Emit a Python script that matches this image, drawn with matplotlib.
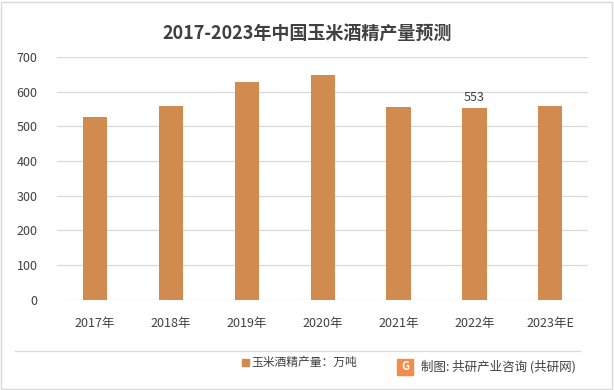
import matplotlib.pyplot as plt
from matplotlib.patches import Rectangle
from matplotlib.lines import Line2D

plt.rcParams['font.family'] = ['Noto Sans CJK SC', 'DejaVu Sans']

years = ['2017年', '2018年', '2019年', '2020年', '2021年', '2022年', '2023年E']
output = [527, 559, 628, 648, 556, 553, 560]
labelled = {'2022年': 553}

bar_color = '#D28B4E'

fig = plt.figure(figsize=(6.14, 3.9), dpi=100)
ax = fig.add_axes([0.093, 0.231, 0.865, 0.623])

x = range(len(years))
ax.bar(x, output, width=0.32, color=bar_color, zorder=3)

for i, (yr, v) in enumerate(zip(years, output)):
    if yr in labelled:
        ax.text(i, v + 12, str(labelled[yr]), ha='center', va='bottom',
                fontsize=9, color='#404040')

ax.set_ylim(0, 700)
ax.set_yticks(range(0, 701, 100))
ax.set_xlim(-0.5, len(years) - 0.5)
ax.set_xticks(list(x))
ax.set_xticklabels(years)
ax.tick_params(axis='both', length=0, labelsize=9, colors='#404040')
ax.tick_params(axis='x', pad=12)
ax.tick_params(axis='y', pad=14)
ax.grid(axis='y', color='#D9D9D9', linewidth=0.9, zorder=0)
for s in ax.spines.values():
    s.set_visible(False)

fig.text(0.5, 0.915, '2017-2023年中国玉米酒精产量预测', ha='center', va='center',
         fontsize=13, fontweight='bold', color='#404040')

# separator line and footer
fig.add_artist(Line2D([0.025, 0.945], [1 - 351 / 390] * 2, color='#D9D9D9', linewidth=0.9))
fig.add_artist(Rectangle((0.394, 1 - 366 / 390), 0.011, 0.017, color=bar_color,
                         transform=fig.transFigure))
fig.text(0.41, 1 - 362 / 390, '玉米酒精产量：万吨', ha='left', va='center',
         fontsize=8.5, color='#404040')

fig.add_artist(Rectangle((0.647, 1 - 375 / 390), 0.025, 0.04, color='#F28C4B',
                         transform=fig.transFigure))
fig.text(0.66, 1 - 367 / 390, 'G', ha='center', va='center', fontsize=8,
         fontweight='bold', color='white')
fig.text(0.685, 1 - 367 / 390, '制图: 共研产业咨询 (共研网)', ha='left', va='center',
         fontsize=9, color='#404040')

# outer frame
fig.add_artist(Rectangle((0.002, 0.003), 0.995, 0.993, fill=False, edgecolor='#D9D9D9',
                         linewidth=1, transform=fig.transFigure))

fig.savefig('out.png', dpi=100)
